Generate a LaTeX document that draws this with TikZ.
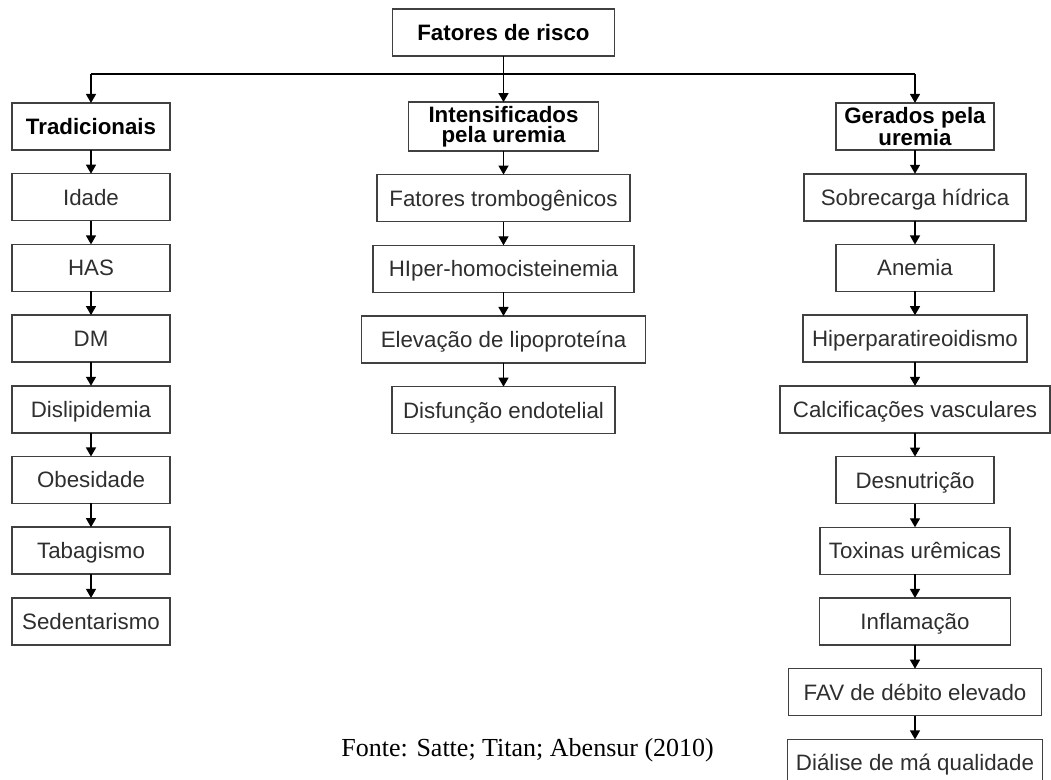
\documentclass[tikz,border=0pt]{standalone}
\usepackage{fontspec}
\setmainfont{Liberation Serif}
\setsansfont{Liberation Sans}
\usetikzlibrary{positioning,arrows.meta}

\begin{document}
\begin{tikzpicture}[x=0.5pt, y=-0.5pt, node distance=11.85pt,
  caixa/.style={draw=black!75, line width=0.75pt, outer sep=0pt, minimum width=79pt, minimum height=23.5pt, inner sep=2pt, text height=8pt, text depth=0pt, align=center, text=black!82, font=\sffamily\fontsize{11.15}{10}\selectfont},
  titulo/.style={caixa, text=black, font=\sffamily\bfseries\fontsize{11.15}{10}\selectfont},
  titulo2/.style={titulo, text height=, text depth=},
  seta/.style={-{Triangle[length=4.5pt,width=5pt]}, line width=0.65pt}]
\useasboundingbox (0,0) rectangle (1051,780);

\node[titulo, minimum width=111pt] (fatores) at (503.5,32.5) {Fatores de risco};
\coordinate (juncao) at (503.5,74);

\node[titulo] (trad) at (91,126.5) {Tradicionais};
\node[caixa, below=of trad] (idade) {Idade};
\node[caixa, below=of idade] (has) {HAS};
\node[caixa, below=of has] (dm) {DM};
\node[caixa, below=of dm] (dislip) {Dislipidemia};
\node[caixa, below=of dislip] (obes) {Obesidade};
\node[caixa, below=of obes] (tabag) {Tabagismo};
\node[caixa, below=of tabag] (sedent) {Sedentarismo};

\node[titulo2, minimum width=95pt] (inten) at (503.5,126.5) {Intensificados\\pela uremia};
\node[caixa, minimum width=126.5pt, below=of inten] (tromb) {Fatores trombogênicos};
\node[caixa, minimum width=130.5pt, below=of tromb] (homoc) {HIper-homocisteinemia};
\node[caixa, minimum width=142pt, below=of homoc] (lipop) {Elevação de lipoproteína};
\node[caixa, minimum width=111.5pt, below=of lipop] (endot) {Disfunção endotelial};

\node[titulo2] (ger) at (915,126.5) {Gerados pela\\uremia};
\node[caixa, minimum width=111pt, below=of ger] (sobrec) {Sobrecarga hídrica};
\node[caixa, below=of sobrec] (anemia) {Anemia};
\node[caixa, minimum width=112pt, below=of anemia] (hiperp) {Hiperparatireoidismo};
\node[caixa, minimum width=135pt, below=of hiperp] (calcif) {Calcificações vasculares};
\node[caixa, below=of calcif] (desnut) {Desnutrição};
\node[caixa, minimum width=95pt, below=of desnut] (toxin) {Toxinas urêmicas};
\node[caixa, minimum width=95.5pt, below=of toxin] (inflam) {Inflamação};
\node[caixa, minimum width=126.5pt, below=of inflam] (fav) {FAV de débito elevado};
\node[caixa, minimum width=127.5pt, below=of fav] (dialise) {Diálise de má qualidade};

\node[anchor=base west, inner sep=0pt, font=\fontsize{13}{15}\selectfont] (fonte) at (341,757) {Fonte: Satte; Titan; Abensur (2010)};

\draw[line width=0.65pt] (trad |- juncao) -- (ger |- juncao);
\draw[seta] (fatores) -- (inten);
\draw[seta] (trad |- juncao) -- (trad);
\draw[seta] (ger |- juncao) -- (ger);
\foreach \a/\b in {trad/idade, idade/has, has/dm, dm/dislip, dislip/obes, obes/tabag, tabag/sedent,
  inten/tromb, tromb/homoc, homoc/lipop, lipop/endot,
  ger/sobrec, sobrec/anemia, anemia/hiperp, hiperp/calcif, calcif/desnut, desnut/toxin, toxin/inflam, inflam/fav, fav/dialise}
  \draw[seta] (\a) -- (\b);
\end{tikzpicture}
\end{document}
